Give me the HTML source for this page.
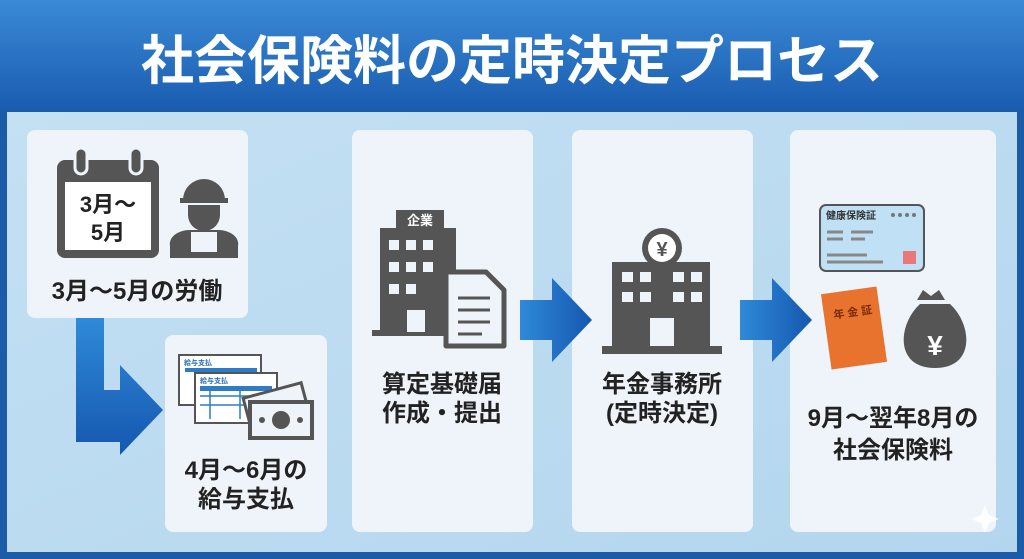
<!DOCTYPE html>
<html><head><meta charset="utf-8"><style>
html,body{margin:0;padding:0;width:1024px;height:559px;overflow:hidden;background:#1b5ba8}
svg{display:block}
text{font-family:"Liberation Sans","Noto Sans CJK JP",sans-serif;font-weight:bold}
</style></head><body>
<svg width="1024" height="559" viewBox="0 0 1024 559">
<defs>
<linearGradient id="tb" x1="0" y1="0" x2="0" y2="1"><stop offset="0" stop-color="#3a8ad6"/><stop offset="1" stop-color="#1a5cb0"/></linearGradient>
<linearGradient id="bg" x1="0" y1="0" x2="1" y2="1"><stop offset="0" stop-color="#c4e0f3"/><stop offset="1" stop-color="#b3d6ee"/></linearGradient>
<linearGradient id="ar" x1="0" y1="0" x2="0" y2="1"><stop offset="0" stop-color="#2f8ad8"/><stop offset="1" stop-color="#1557b0"/></linearGradient>
<linearGradient id="ar2" x1="0" y1="0" x2="1" y2="0"><stop offset="0" stop-color="#2f8ad8"/><stop offset="1" stop-color="#1557b0"/></linearGradient>
</defs>
<rect width="1024" height="559" fill="#1b5ba8"/>
<rect width="1024" height="110" fill="url(#tb)"/>
<text x="512" y="79" font-size="53" fill="#fff" text-anchor="middle">社会保険料の定時決定プロセス</text>
<rect x="7" y="112" width="1010" height="440" fill="url(#bg)"/>
<g fill="#eef4f9">
<rect x="27" y="130" width="221" height="188" rx="8"/>
<rect x="165" y="335" width="162" height="197" rx="8"/>
<rect x="352" y="130" width="181" height="402" rx="8"/>
<rect x="572" y="130" width="181" height="402" rx="8"/>
<rect x="790" y="130" width="206" height="402" rx="8"/>
</g>
<path d="M76 318 H104 V390 H120 V365 L163 410 L120 455 V442 H76 Z" fill="url(#ar)"/>
<path d="M520 300 H552 V278 L592 320 L552 362 V340 H520 Z" fill="url(#ar2)"/>
<path d="M740 300 H772 V278 L812 320 L772 362 V340 H740 Z" fill="url(#ar2)"/>
<rect x="57" y="160" width="102" height="98" rx="8" fill="#555"/>
<rect x="65" y="182" width="86" height="68" fill="#fff"/>
<rect x="75" y="148" width="12" height="26" rx="6" fill="#555" stroke="#eef4f9" stroke-width="3"/>
<rect x="130" y="148" width="12" height="26" rx="6" fill="#555" stroke="#eef4f9" stroke-width="3"/>
<text x="108" y="212" font-size="22" fill="#222" text-anchor="middle">3月〜</text>
<text x="108" y="240" font-size="22" fill="#222" text-anchor="middle">5月</text>
<path d="M183 200 a21 21 0 0 1 42 0 z" fill="#555"/><rect x="180" y="198" width="48" height="5" fill="#555"/>
<path d="M188 205 h32 v10 a16 16 0 0 1 -32 0z" fill="#555"/>
<path d="M170 258 v-12 a20 14 0 0 1 20 -16 h28 a20 14 0 0 1 20 16 v12z" fill="#555"/>
<rect x="191" y="232" width="26" height="20" fill="#eef4f9"/>
<text x="137" y="299" font-size="24" fill="#222" text-anchor="middle">3月〜5月の労働</text>
<g stroke="#555" stroke-width="2" fill="#fff"><rect x="179" y="355" width="82" height="50"/><rect x="195" y="373" width="82" height="50"/></g>
<text x="184" y="365" font-size="7" fill="#2a6fb5">給与支払</text>
<rect x="185" y="368" width="72" height="4" fill="#2f7cc6"/>
<text x="200" y="383" font-size="7" fill="#2a6fb5">給与支払</text>
<rect x="200" y="386" width="72" height="5" fill="#2f7cc6"/>
<path d="M200 396 h72 M200 405 h72 M210 391 v28 M240 391 v28" stroke="#2f7cc6" stroke-width="1.5"/>
<rect x="246" y="390" width="60" height="30" fill="#eef4f9" stroke="#555" stroke-width="3" transform="rotate(-15 276 405)"/>
<rect x="250" y="402" width="62" height="36" fill="#eef4f9" stroke="#555" stroke-width="4"/>
<circle cx="281" cy="420" r="9" fill="#555"/><circle cx="262" cy="420" r="3" fill="#555"/><circle cx="300" cy="420" r="3" fill="#555"/>
<text x="246" y="478" font-size="24" fill="#222" text-anchor="middle">4月〜6月の</text>
<text x="246" y="507" font-size="24" fill="#222" text-anchor="middle">給与支払</text>
<rect x="396" y="210" width="48" height="18" fill="#555"/><text x="420" y="225" font-size="13" fill="#fff" text-anchor="middle">企業</text>
<rect x="380" y="228" width="76" height="108" fill="#555"/>
<rect x="372" y="330" width="90" height="6" fill="#555"/>
<g fill="#eef4f9"><rect x="389" y="240" width="10" height="10"/><rect x="406" y="240" width="10" height="10"/><rect x="423" y="240" width="10" height="10"/>
<rect x="389" y="262" width="10" height="10"/><rect x="406" y="262" width="10" height="10"/><rect x="423" y="262" width="10" height="10"/>
<rect x="389" y="284" width="10" height="10"/><rect x="406" y="284" width="10" height="10"/><rect x="407" y="310" width="18" height="22"/></g>
<path d="M446 272 h40 l18 18 v56 h-58z" fill="#eef4f9" stroke="#555" stroke-width="5" stroke-linejoin="round"/>
<path d="M458 298 h32 M458 310 h32 M458 322 h32 M458 334 h24" stroke="#555" stroke-width="3"/>
<text x="442" y="392" font-size="24" fill="#222" text-anchor="middle">算定基礎届</text>
<text x="442" y="421" font-size="24" fill="#222" text-anchor="middle">作成・提出</text>
<rect x="612" y="262" width="98" height="86" fill="#555"/>
<rect x="602" y="346" width="120" height="8" fill="#555"/>
<circle cx="662" cy="248" r="20" fill="#555"/><circle cx="662" cy="248" r="14" fill="#fff"/>
<text x="662" y="256" font-size="20" fill="#555" text-anchor="middle">¥</text>
<g fill="#eef4f9"><rect x="622" y="272" width="11" height="10"/><rect x="640" y="272" width="11" height="10"/><rect x="673" y="272" width="11" height="10"/><rect x="691" y="272" width="11" height="10"/>
<rect x="622" y="292" width="11" height="10"/><rect x="640" y="292" width="11" height="10"/><rect x="673" y="292" width="11" height="10"/><rect x="691" y="292" width="11" height="10"/>
<rect x="650" y="318" width="24" height="28"/></g>
<text x="662" y="392" font-size="24" fill="#222" text-anchor="middle">年金事務所</text>
<text x="662" y="421" font-size="24" fill="#222" text-anchor="middle">(定時決定)</text>
<rect x="820" y="205" width="104" height="66" rx="6" fill="#bfe0f5" stroke="#555" stroke-width="2"/>
<text x="826" y="219" font-size="10" fill="#333">健康保険証</text>
<g fill="#777"><circle cx="893" cy="215" r="2"/><circle cx="900" cy="215" r="2"/><circle cx="907" cy="215" r="2"/><circle cx="914" cy="215" r="2"/></g>
<path d="M827 232 h16 M851 232 h22 M827 239 h16 M851 239 h14 M827 255 h40 M827 262 h56" stroke="#888" stroke-width="3"/>
<rect x="903" y="251" width="13" height="13" fill="#e9787a"/>
<rect x="826" y="290" width="56" height="76" fill="#e8732e" transform="rotate(-8 854 328)"/>
<text x="855" y="316" font-size="11" fill="#7a2a0a" text-anchor="middle" transform="rotate(-8 854 328)">年 金 証</text>
<path d="M923 290 l8 6 l8 -6 l6 10 h-28z" fill="#555"/>
<path d="M920 304 h30 c22 20 26 64 -15 64 c-41 0 -37 -44 -15 -64z" fill="#555"/>
<text x="935" y="355" font-size="28" fill="#fff" text-anchor="middle">¥</text>
<text x="893" y="426" font-size="24" fill="#222" text-anchor="middle">9月〜翌年8月の</text>
<text x="893" y="458" font-size="24" fill="#222" text-anchor="middle">社会保険料</text>
<path d="M985 505 l4 10 l10 4 l-10 4 l-4 10 l-4 -10 l-10 -4 l10 -4z" fill="#fff" opacity="0.85"/>
</svg>
</body></html>
